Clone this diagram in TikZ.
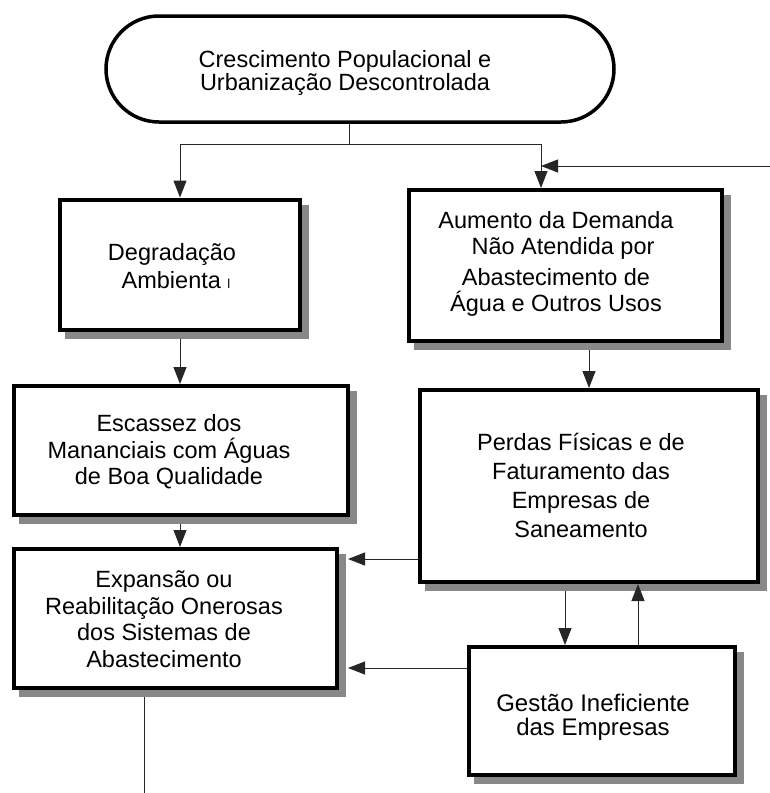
\documentclass[tikz,border=0pt]{standalone}
\usepackage{fontspec}
\setmainfont{Liberation Sans}
\usetikzlibrary{shapes.misc,arrows.meta,calc}
\begin{document}
\begin{tikzpicture}[x=1pt,y=-1pt,
  box/.style={draw, line width=4pt, fill=white, inner sep=0pt},
  shadowbar/.style={draw={rgb,255:red,136;green,136;blue,136}, line width=7pt, line cap=butt, line join=miter},
  term/.style={draw, line width=3.5pt, fill=white, inner sep=0pt, rounded rectangle},
  txt/.style={align=center, inner sep=0pt, font=\fontsize{23.5}{26.5}\selectfont},
  ln/.style={draw=black!85, line width=1pt},
  arr/.style={ln, -{Triangle[length=17pt,width=13pt]}}]
\useasboundingbox (0,0) rectangle (770,793);

% boxes
\node[term, minimum width=508pt, minimum height=106pt] (top) at (360,69) {};
\node[txt, font=\fontsize{23.5}{23}\selectfont] (topt) at (345,73) {Crescimento Populacional e\\Urbanização Descontrolada};

\node[box, minimum width=240pt, minimum height=130pt] (degr) at (180,264.5) {};
\node[txt, font=\fontsize{23.5}{28}\selectfont] (degrt) at (172,266) {Degradação\\\hspace*{8pt}Ambienta {\fontsize{13}{13}\selectfont l}};

\node[box, minimum width=313pt, minimum height=151pt] (aum) at (565.5,265.5) {};
\node[txt] (aumt) at (556,264) {Aumento da Demanda\\\hspace*{14pt}Não Atendida por\\[4pt]Abastecimento de\\Água e Outros Usos};

\node[box, minimum width=334pt, minimum height=129pt] (esc) at (181,450.5) {};
\node[txt] (esct) at (169,452) {Escassez dos\\Mananciais com Águas\\de Boa Qualidade};

\node[box, minimum width=338pt, minimum height=192pt] (perd) at (589,486) {};
\node[txt, font=\fontsize{23.5}{29}\selectfont] (perdt) at (581,485) {Perdas Físicas e de\\Faturamento das\\Empresas de\\Saneamento};

\node[box, minimum width=323pt, minimum height=139pt] (exp) at (175.5,618.5) {};
\node[txt] (expt) at (164,619) {Expansão ou\\Reabilitação Onerosas\\dos Sistemas de\\Abastecimento};

\node[box, minimum width=266pt, minimum height=128pt] (gest) at (602,711) {};
\node[txt, font=\fontsize{24}{24}\selectfont] (gestt) at (593,717) {Gestão Ineficiente\\das Empresas};

% shadows: L-shaped grey bars along the right and bottom sides
\foreach \bx in {degr,aum,esc,perd,exp,gest}{
  \draw[shadowbar] ($(\bx.north east)+(3.5,7)$) |- ($(\bx.south west)+(7,3.5)$);
}

% connectors
\coordinate (split) at (349,144);
\coordinate (aumin) at ($(aum.north)+(-24.5,0)$);
\coordinate (fb) at (770,166);
\coordinate (bot) at (144,793);

\draw[ln] (split |- top.south) -- (split);
\draw[arr] (split) -| (degr.north);
\draw[arr] (split) -| (aumin);
\draw[arr] (fb) -- (fb -| aumin);

\draw[arr] ($(degr.south)+(0,7)$) -- (esc.north -| degr.south);
\draw[arr] ($(aum.south -| perd.north)+(0,7)$) -- (perd.north);
\draw[arr] ($(esc.south)+(-1,7)$) coordinate (e1) -- (e1 |- exp.north);

\draw[arr] ($(perd.west)+(0,73)$) coordinate (p1) -- ($(p1 -| exp.east)+(9,0)$);
\draw[arr] ($(perd.south)+(-24,7)$) coordinate (p2) -- (p2 |- gest.north);
\draw[arr] ($(gest.north)+(36,0)$) coordinate (g1) -- (g1 |- perd.south);
\draw[arr] ($(gest.west)+(0,-43)$) coordinate (g2) -- ($(g2 -| exp.east)+(9,0)$);

\draw[ln] ($(exp.south -| bot)+(0,7)$) -- (bot);
\end{tikzpicture}
\end{document}
